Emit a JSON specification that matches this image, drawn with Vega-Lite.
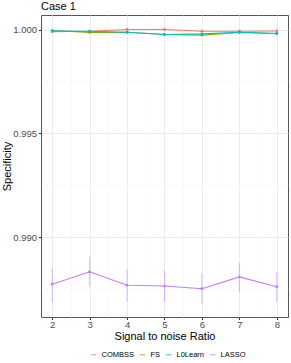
{
  "$schema": "https://vega.github.io/schema/vega-lite/v6.json",
  "width": 247,
  "height": 302,
  "autosize": {"type": "none"},
  "padding": {"left": 41, "top": 15, "right": 3, "bottom": 46},
  "background": "white",
  "title": {"text": "Case 1", "anchor": "start", "frame": "group", "fontSize": 11, "fontWeight": "normal", "font": "Liberation Sans", "color": "#000000", "offset": 3},
  "config": {
    "view": {"stroke": "#555555", "strokeWidth": 1},
    "font": "Liberation Sans"
  },
  "data": {"values": [
    {"method": "COMBSS", "snr": 2, "spec": 0.99989, "lo": 0.99987, "hi": 0.99991},
    {"method": "COMBSS", "snr": 3, "spec": 0.99992, "lo": 0.99990, "hi": 0.99994},
    {"method": "COMBSS", "snr": 4, "spec": 1.00000, "lo": 0.99998, "hi": 1.00002},
    {"method": "COMBSS", "snr": 5, "spec": 1.00000, "lo": 0.99998, "hi": 1.00002},
    {"method": "COMBSS", "snr": 6, "spec": 0.99992, "lo": 0.99990, "hi": 0.99994},
    {"method": "COMBSS", "snr": 7, "spec": 0.99992, "lo": 0.99990, "hi": 0.99994},
    {"method": "COMBSS", "snr": 8, "spec": 0.99993, "lo": 0.99991, "hi": 0.99995},
    {"method": "FS", "snr": 2, "spec": 0.99995, "lo": 0.99992, "hi": 0.99998},
    {"method": "FS", "snr": 3, "spec": 0.99986, "lo": 0.99983, "hi": 0.99989},
    {"method": "FS", "snr": 4, "spec": 0.99987, "lo": 0.99984, "hi": 0.99990},
    {"method": "FS", "snr": 5, "spec": 0.99976, "lo": 0.99973, "hi": 0.99979},
    {"method": "FS", "snr": 6, "spec": 0.99973, "lo": 0.99970, "hi": 0.99976},
    {"method": "FS", "snr": 7, "spec": 0.99986, "lo": 0.99983, "hi": 0.99989},
    {"method": "FS", "snr": 8, "spec": 0.99981, "lo": 0.99978, "hi": 0.99984},
    {"method": "L0Learn", "snr": 2, "spec": 0.99993, "lo": 0.99990, "hi": 0.99996},
    {"method": "L0Learn", "snr": 3, "spec": 0.99992, "lo": 0.99989, "hi": 0.99995},
    {"method": "L0Learn", "snr": 4, "spec": 0.99987, "lo": 0.99984, "hi": 0.99990},
    {"method": "L0Learn", "snr": 5, "spec": 0.99976, "lo": 0.99973, "hi": 0.99979},
    {"method": "L0Learn", "snr": 6, "spec": 0.99979, "lo": 0.99976, "hi": 0.99982},
    {"method": "L0Learn", "snr": 7, "spec": 0.99987, "lo": 0.99984, "hi": 0.99990},
    {"method": "L0Learn", "snr": 8, "spec": 0.99981, "lo": 0.99978, "hi": 0.99984},
    {"method": "LASSO", "snr": 2, "spec": 0.98773, "lo": 0.98686, "hi": 0.98851},
    {"method": "LASSO", "snr": 3, "spec": 0.98833, "lo": 0.98761, "hi": 0.98905},
    {"method": "LASSO", "snr": 4, "spec": 0.98768, "lo": 0.98689, "hi": 0.98846},
    {"method": "LASSO", "snr": 5, "spec": 0.98764, "lo": 0.98689, "hi": 0.98837},
    {"method": "LASSO", "snr": 6, "spec": 0.98751, "lo": 0.98678, "hi": 0.98824},
    {"method": "LASSO", "snr": 7, "spec": 0.98808, "lo": 0.98736, "hi": 0.98876},
    {"method": "LASSO", "snr": 8, "spec": 0.98761, "lo": 0.98689, "hi": 0.98832}
  ]},
  "encoding": {
    "x": {
      "field": "snr", "type": "quantitative",
      "scale": {"domain": [1.7, 8.3], "nice": false, "zero": false},
      "axis": {
        "title": "Signal to noise Ratio",
        "values": [2, 2.5, 3, 3.5, 4, 4.5, 5, 5.5, 6, 6.5, 7, 7.5, 8],
        "labelExpr": "datum.value % 1 == 0 ? format(datum.value, 'd') : ''",
        "domain": false,
        "grid": true,
        "gridColor": {"condition": {"test": "datum.value % 1 != 0", "value": "#f5f5f5"}, "value": "#ebebeb"},
        "gridWidth": {"condition": {"test": "datum.value % 1 != 0", "value": 0.6}, "value": 1},
        "tickColor": {"condition": {"test": "datum.value % 1 != 0", "value": "transparent"}, "value": "#333333"},
        "tickSize": 2.5,
        "labelPadding": 0,
        "labelFontSize": 9.5,
        "labelColor": "#4d4d4d",
        "labelFont": "Liberation Sans",
        "titleFontSize": 11,
        "titleFontWeight": "normal",
        "titleColor": "#000000",
        "titleFont": "Liberation Sans",
        "titlePadding": 1
      }
    },
    "color": {
      "field": "method", "type": "nominal",
      "scale": {"domain": ["COMBSS", "FS", "L0Learn", "LASSO"], "range": ["#F8766D", "#7CAE00", "#00BFC4", "#C77CFF"]},
      "legend": {
        "title": null,
        "orient": "none",
        "direction": "horizontal",
        "legendX": 49,
        "legendY": 336,
        "padding": 0,
        "symbolType": "stroke",
        "symbolSize": 25,
        "symbolStrokeWidth": 1.5,
        "labelFontSize": 7.5,
        "labelFont": "Liberation Sans",
        "labelColor": "#000000",
        "labelOffset": 4,
        "columnPadding": 2,
        "gridAlign": "none"
      }
    }
  },
  "layer": [
    {
      "mark": {"type": "rule", "strokeWidth": 1, "opacity": 0.55},
      "encoding": {
        "y": {"field": "lo", "type": "quantitative"},
        "y2": {"field": "hi"}
      }
    },
    {
      "mark": {"type": "line", "strokeWidth": 1.1},
      "encoding": {
        "y": {
          "field": "spec", "type": "quantitative",
          "scale": {"domain": [0.98615, 1.0007], "nice": false, "zero": false},
          "axis": {
            "title": "Specificity",
            "values": [0.9875, 0.99, 0.9925, 0.995, 0.9975, 1.0],
            "labelExpr": "abs(datum.value*200 - round(datum.value*200)) > 0.01 ? '' : format(datum.value, '.3f')",
            "domain": false,
            "grid": true,
            "gridColor": {"condition": {"test": "abs(datum.value*200 - round(datum.value*200)) > 0.01", "value": "#f5f5f5"}, "value": "#ebebeb"},
            "gridWidth": {"condition": {"test": "abs(datum.value*200 - round(datum.value*200)) > 0.01", "value": 0.6}, "value": 1},
            "tickColor": {"condition": {"test": "abs(datum.value*200 - round(datum.value*200)) > 0.01", "value": "transparent"}, "value": "#333333"},
            "tickSize": 2.5,
            "labelPadding": 2,
            "labelFontSize": 9.5,
            "labelColor": "#4d4d4d",
            "labelFont": "Liberation Sans",
            "titleFontSize": 11,
            "titleFontWeight": "normal",
            "titleColor": "#000000",
            "titleFont": "Liberation Sans",
            "titlePadding": 0
          }
        }
      }
    },
    {
      "mark": {"type": "point", "filled": true, "size": 8, "opacity": 1},
      "encoding": {
        "y": {"field": "spec", "type": "quantitative"}
      }
    }
  ]
}
